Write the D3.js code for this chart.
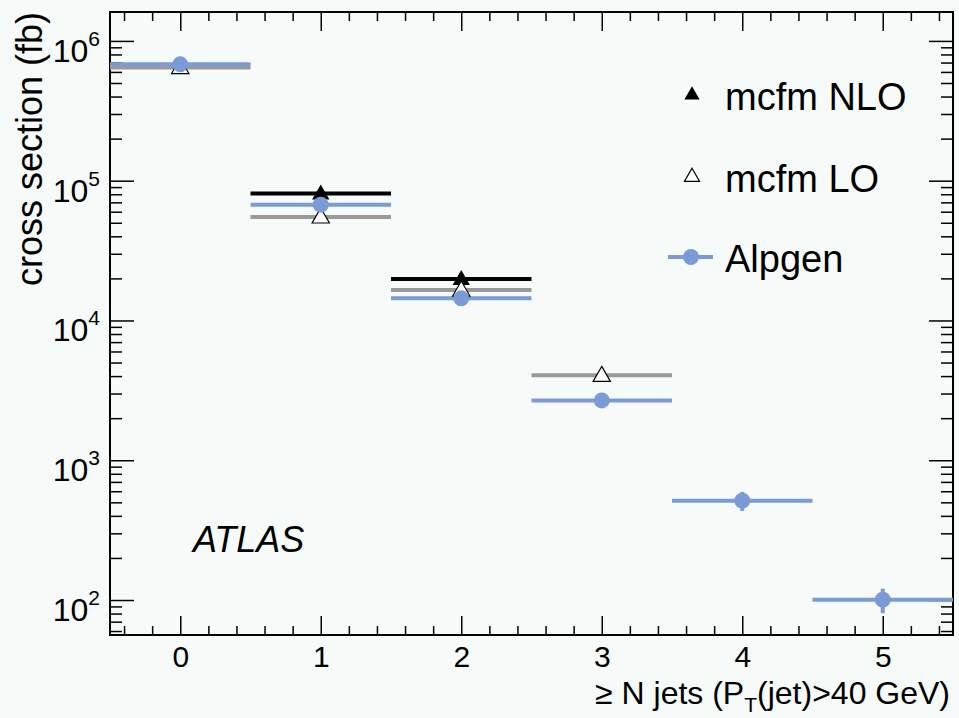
<!DOCTYPE html>
<html>
<head>
<meta charset="utf-8">
<script src="https://cdn.jsdelivr.net/npm/d3@7"></script>
<style>
  body { margin: 0; background: #f6faf8; }
  text { font-family: "Liberation Sans", Arial, sans-serif; fill: #000; }
</style>
</head>
<body>
<div id="chart"></div>
<script>
// data
var nJets = [0, 1, 2, 3, 4, 5];
var nloXsec = [null, 8.1e4, 1.98e4, null, null, null];
var loXsec = [6.45e5, 5.5e4, 1.65e4, 4.05e3, null, null];
var alpgenXsec = [6.8e5, 6.74e4, 1.44e4, 2.68e3, 514, 100.5];
var alpgenErr = [5e3, 1.2e3, 3e2, 1e2, 80, 20];
var yMajor = [1e2, 1e3, 1e4, 1e5, 1e6];
var yLabelExp = [2, 3, 4, 5, 6];
var legendItems = ["mcfm NLO", "mcfm LO", "Alpgen"];

var svgWidth = 959;
var svgHeight = 718;

var margin = {
  top: 12,
  right: 6,
  bottom: 83,
  left: 110
};

var width = svgWidth - margin.left - margin.right;
var height = svgHeight - margin.top - margin.bottom;

var blue = "#7b9bd6";
var grey = "#999999";

var svg = d3.select("#chart")
  .append("svg")
  .attr("width", svgWidth)
  .attr("height", svgHeight);

svg.append("rect")
  .attr("width", svgWidth)
  .attr("height", svgHeight)
  .attr("fill", "#f6faf8");

var chartGroup = svg.append("g")
  .attr("transform", `translate(${margin.left}, ${margin.top})`);

var xScale = d3.scaleLinear()
  .domain([-0.5, 5.5])
  .range([0, width]);

var yScale = d3.scaleLog()
  .domain([56.2, 1.61e6])
  .range([height, 0]);

// minor ticks
var xMinor = d3.range(-0.4, 5.5, 0.2).filter(v => Math.abs(v - Math.round(v)) > 1e-6);
var yMinor = [];
for (var e = 1; e <= 6; e++) {
  for (var m = 2; m <= 9; m++) {
    var v = m * Math.pow(10, e);
    if (v > yScale.domain()[0] && v < yScale.domain()[1]) yMinor.push(v);
  }
}

function addAxis(axis, transform) {
  var g = chartGroup.append("g")
    .attr("transform", transform || null)
    .call(axis);
  g.select(".domain").remove();
  g.selectAll(".tick line").attr("stroke", "#000").attr("stroke-width", 1.5);
  return g;
}

// bottom axis
var bottomAxis = addAxis(d3.axisBottom(xScale).tickValues(nJets).tickFormat(d3.format("d"))
    .tickSizeInner(-19).tickSizeOuter(0).tickPadding(11),
  `translate(0, ${height})`);
bottomAxis.selectAll("text")
  .attr("font-size", "30px")
  .attr("font-family", "Liberation Sans, Arial, sans-serif");
addAxis(d3.axisBottom(xScale).tickValues(xMinor).tickSizeInner(-9).tickSizeOuter(0).tickFormat(""),
  `translate(0, ${height})`);

// top axis
addAxis(d3.axisTop(xScale).tickValues(nJets).tickSizeInner(-19).tickSizeOuter(0).tickFormat(""));
addAxis(d3.axisTop(xScale).tickValues(xMinor).tickSizeInner(-9).tickSizeOuter(0).tickFormat(""));

// left axis
addAxis(d3.axisLeft(yScale).tickValues(yMajor).tickSizeInner(-24).tickSizeOuter(0).tickFormat(""));
addAxis(d3.axisLeft(yScale).tickValues(yMinor).tickSizeInner(-12).tickSizeOuter(0).tickFormat(""));

// right axis
addAxis(d3.axisRight(yScale).tickValues(yMajor).tickSizeInner(-24).tickSizeOuter(0).tickFormat(""),
  `translate(${width}, 0)`);
addAxis(d3.axisRight(yScale).tickValues(yMinor).tickSizeInner(-12).tickSizeOuter(0).tickFormat(""),
  `translate(${width}, 0)`);

// y tick labels 10^n
var yLabels = chartGroup.selectAll("text.ylab")
  .data(yMajor)
  .enter()
  .append("text")
  .attr("class", "ylab")
  .attr("x", -10)
  .attr("y", d => yScale(d) + 21)
  .attr("text-anchor", "end")
  .attr("font-size", "32px");
yLabels.append("tspan").text("10");
yLabels.append("tspan")
  .attr("dy", -16)
  .attr("font-size", "21px")
  .text((d, i) => yLabelExp[i]);

// frame
chartGroup.append("rect")
  .attr("width", width)
  .attr("height", height)
  .attr("fill", "none")
  .attr("stroke", "#000")
  .attr("stroke-width", 2);

// axis titles
chartGroup.append("text")
  .attr("transform", "rotate(-90)")
  .attr("x", 0)
  .attr("y", 42 - margin.left)
  .attr("text-anchor", "end")
  .attr("font-size", "36px")
  .text("cross section (fb)");

var xTitle = svg.append("text")
  .attr("x", 950)
  .attr("y", 704)
  .attr("text-anchor", "end")
  .attr("font-size", "32px");
xTitle.append("tspan").text("\u2265 N jets (P");
xTitle.append("tspan").attr("font-size", "21px").attr("dy", 8).text("T");
xTitle.append("tspan").attr("dy", -8).text("(jet)>40 GeV)");

// ATLAS label
chartGroup.append("text")
  .attr("x", 193 - margin.left)
  .attr("y", 552 - margin.top)
  .attr("font-size", "36px")
  .attr("font-style", "italic")
  .text("ATLAS");

// horizontal bin lines
function binLines(values, color) {
  var idx = nJets.filter((d, i) => values[i] != null);
  chartGroup.selectAll(null)
    .data(idx)
    .enter()
    .append("line")
    .attr("x1", d => xScale(d - 0.5))
    .attr("x2", d => xScale(d + 0.5))
    .attr("y1", d => yScale(values[d]))
    .attr("y2", d => yScale(values[d]))
    .attr("stroke", color)
    .attr("stroke-width", 4);
}

binLines(nloXsec, "#000");
binLines(loXsec, grey);
binLines(alpgenXsec, blue);

var triangle = d3.symbol().type(d3.symbolTriangle).size(130);
var triangleSmall = d3.symbol().type(d3.symbolTriangle).size(100);

// mcfm markers
chartGroup.selectAll("path.nlo")
  .data(nJets.filter((d, i) => nloXsec[i] != null))
  .enter()
  .append("path")
  .attr("class", "nlo")
  .attr("d", triangle)
  .attr("transform", d => `translate(${xScale(d)}, ${yScale(nloXsec[d]) + 1})`)
  .attr("fill", "#000");

chartGroup.selectAll("path.lo")
  .data(nJets.filter((d, i) => loXsec[i] != null))
  .enter()
  .append("path")
  .attr("class", "lo")
  .attr("d", triangle)
  .attr("transform", d => `translate(${xScale(d)}, ${yScale(loXsec[d]) + 1})`)
  .attr("fill", "#fff")
  .attr("stroke", "#000")
  .attr("stroke-width", 1.2);

// alpgen error bars and points
chartGroup.selectAll("line.err")
  .data(nJets)
  .enter()
  .append("line")
  .attr("class", "err")
  .attr("x1", d => xScale(d))
  .attr("x2", d => xScale(d))
  .attr("y1", d => yScale(alpgenXsec[d] + alpgenErr[d]))
  .attr("y2", d => yScale(alpgenXsec[d] - alpgenErr[d]))
  .attr("stroke", blue)
  .attr("stroke-width", 4);

chartGroup.selectAll("circle.alp")
  .data(nJets)
  .enter()
  .append("circle")
  .attr("class", "alp")
  .attr("cx", d => xScale(d))
  .attr("cy", d => yScale(alpgenXsec[d]))
  .attr("r", 8)
  .attr("fill", blue);

// legend
var legend = svg.append("g");
var legendY = [95, 177, 257];

legend.selectAll("text")
  .data(legendItems)
  .enter()
  .append("text")
  .attr("x", 725)
  .attr("y", (d, i) => legendY[i] + 15)
  .attr("font-size", "38px")
  .text(d => d);

legend.append("path")
  .attr("d", triangleSmall)
  .attr("transform", `translate(692, ${legendY[0]})`)
  .attr("fill", "#000");

legend.append("path")
  .attr("d", triangleSmall)
  .attr("transform", `translate(692, ${legendY[1]})`)
  .attr("fill", "#fff")
  .attr("stroke", "#000")
  .attr("stroke-width", 1.2);

legend.append("line")
  .attr("x1", 668)
  .attr("x2", 713)
  .attr("y1", legendY[2])
  .attr("y2", legendY[2])
  .attr("stroke", blue)
  .attr("stroke-width", 4);

legend.append("circle")
  .attr("cx", 691)
  .attr("cy", legendY[2])
  .attr("r", 8)
  .attr("fill", blue);
</script>
</body>
</html>
